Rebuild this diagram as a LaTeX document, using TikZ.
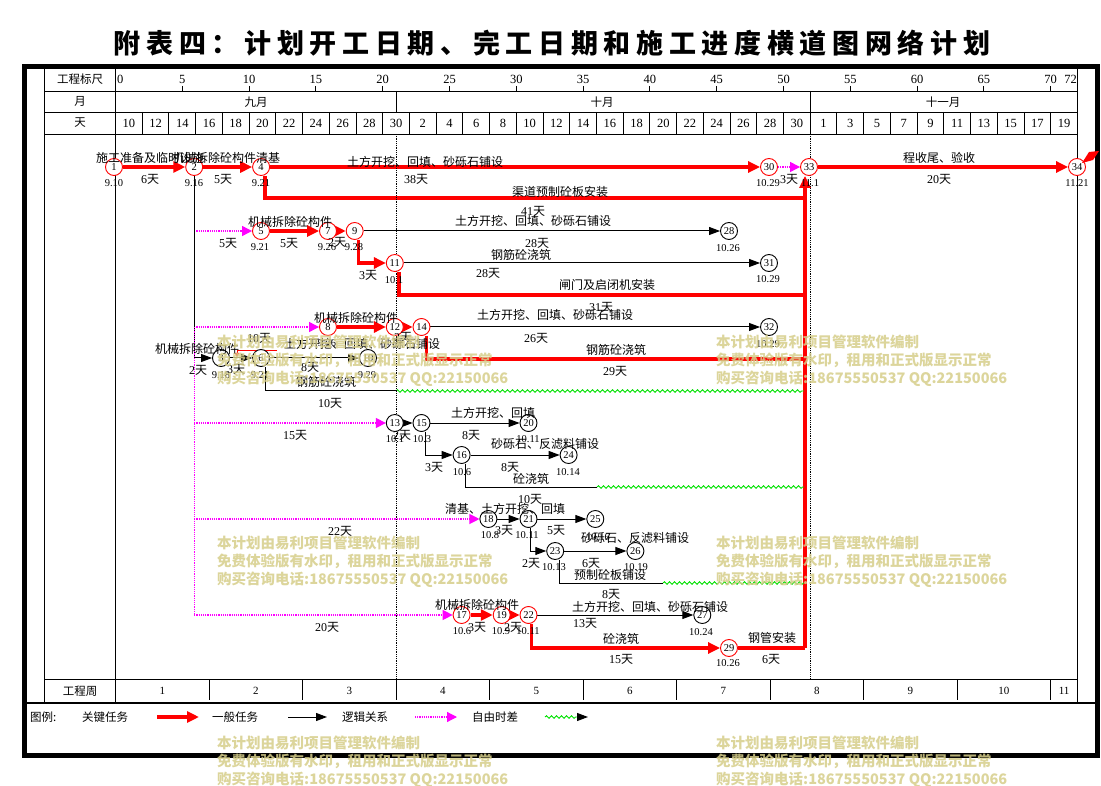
\documentclass[tikz,border=0pt]{standalone}
\usepackage{fontspec}
\setmainfont{Liberation Serif}
\newfontfamily\cjk{Noto Sans CJK SC}
\newfontfamily\ttlfont[LetterSpace=21]{Noto Sans CJK SC}
\usetikzlibrary{arrows.meta,decorations.pathmorphing}
\pgfdeclarelayer{bg}
\pgfsetlayers{bg,main}
\newcommand\dur[1]{#1{\cjk 天}}
\definecolor{wm}{RGB}{214,206,138}
\definecolor{lgreen}{RGB}{0,225,0}
\definecolor{mag}{RGB}{255,0,255}
\tikzset{
 rn/.style={circle,draw=red,line width=0.9pt,fill=white,minimum size=17pt,inner sep=0pt,font=\fontsize{10.5}{10.5}\selectfont},
 bn/.style={rn,draw=black},
 crit/.style={red,line width=3.5pt},
 critarr/.style={crit,-{Triangle[length=12pt,width=11pt]}},
 norm/.style={black,line width=1pt},
 normarr/.style={norm,-{Triangle[length=11pt,width=8pt]}},
 flt/.style={mag,line width=1.2pt,densely dotted,-{Triangle[length=10pt,width=10pt]}},
 fltl/.style={mag,line width=1.2pt,densely dotted},
 wav/.style={lgreen,line width=0.9pt,decorate,decoration={snake,amplitude=1.3pt,segment length=5pt}},
 lb/.style={font=\cjk\fontsize{12}{12}\selectfont,inner sep=0pt},
 du/.style={font=\fontsize{12}{12}\selectfont,inner sep=0pt},
 dt/.style={font=\fontsize{10.5}{10.5}\selectfont,inner sep=0pt},
 hd/.style={font=\fontsize{12.5}{12.5}\selectfont,inner sep=0pt},
 hc/.style={font=\cjk\fontsize{11.5}{11.5}\selectfont,inner sep=0pt},
 lg/.style={font=\cjk\fontsize{11.5}{11.5}\selectfont,inner sep=0pt,anchor=west},
 wmk/.style={font=\cjk\bfseries\fontsize{14.5}{14.5}\selectfont,text=wm,text opacity=0.85,anchor=west,inner sep=0pt},
 tbl/.style={black,line width=0.9pt},
}
\begin{document}
\begin{tikzpicture}[x=1pt,y=-1pt]
\useasboundingbox (0,0) rectangle (1101,786);
\begin{pgfonlayer}{bg}
\fill[white] (0,0) rectangle (1101,786);
\end{pgfonlayer}

% title
\node (title) at (552,43) {\ttlfont\bfseries\fontsize{27}{27}\selectfont 附表四：计划开工日期、完工日期和施工进度横道图网络计划};

% frame and table
\draw[line width=4.5pt] (24.3,66.3) rectangle (1097.7,755.7);
\draw[tbl] (44,66) -- (44,703);
\draw[tbl] (115.5,66) -- (115.5,703);
\draw[tbl] (1077.4,66) -- (1077.4,703);
\draw[tbl] (44,91) -- (1077.4,91);
\draw[tbl] (44,112) -- (1077.4,112);
\draw[tbl] (44,134) -- (1077.4,134);
\draw[tbl] (44,679) -- (1077.4,679);
\draw[line width=2pt] (24,703) -- (1097,703);
\draw[tbl] (396,91) -- (396,112);
\draw[tbl] (810.2,91) -- (810.2,112);
\foreach \d in {2,4,...,70} \draw[tbl] ({115.5+13.36*\d},112) -- ({115.5+13.36*\d},134);
\foreach \d in {5,10,...,70} \draw[tbl] ({115.5+13.36*\d},86) -- ({115.5+13.36*\d},91);
\draw[line width=0.8pt,densely dotted] (396,134) -- (396,679);
\draw[line width=0.8pt,densely dotted] (810.2,134) -- (810.2,679);
\foreach \k in {1,...,10} \draw[tbl] ({115.5+13.36*7*\k},679) -- ({115.5+13.36*7*\k},700);

% header texts
\node[hc] (h1) at (80,79) {工程标尺};
\node[hc] (h2) at (80,101) {月};
\node[hc] (h3) at (80,123) {天};
\node[hc] (h4) at (80,691) {工程周};
\node[hc] (m1) at (256,102) {九月};
\node[hc] (m2) at (602,102) {十月};
\node[hc] (m3) at (943,102) {十一月};
\node[hd,anchor=west] (s0) at (117,79) {0};
\foreach \d in {5,10,...,70} \node[hd] (s\d) at ({115.5+13.36*\d},79) {\d};
\node[hd,anchor=east] (s72) at (1077,79) {72};
\foreach \d in {0,2,...,70} {
  \pgfmathtruncatemacro\lab{\d<21 ? 10+\d : (\d<51 ? \d-20 : \d-51)}
  \node[hd] (dy\d) at ({115.5+13.36*(\d+1)},123) {\lab};
}
\foreach \k in {1,...,10} \node[dt,font=\fontsize{11}{11}\selectfont] (wk\k) at ({115.5+13.36*(7*\k-3.5)},691) {\k};
\node[dt,font=\fontsize{11}{11}\selectfont] (wk11) at ({115.5+13.36*71},691) {11};

% network nodes
\node[rn] (n1) at (114,167) {1};
\node[rn] (n2) at (194.2,167) {2};
\node[rn] (n4) at (261.1,167) {4};
\node[rn] (n30) at (769,167) {30};
\node[rn] (n33) at (809,167) {33};
\node[rn] (n34) at (1077,167) {34};
\node[rn] (n5) at (261,231) {5};
\node[rn] (n7) at (328,231) {7};
\node[rn] (n9) at (354.7,231) {9};
\node[bn] (n28) at (729,231) {28};
\node[rn] (n11) at (394.8,263) {11};
\node[bn] (n31) at (769,263) {31};
\node[rn] (n8) at (328,327) {8};
\node[rn] (n12) at (394.8,327) {12};
\node[rn] (n14) at (421.5,327) {14};
\node[bn] (n32) at (769,327) {32};
\node[bn] (n3) at (221,358) {3};
\node[bn] (n6) at (261,358) {6};
\node[bn] (n10) at (368,358) {10};
\node[bn] (n13) at (394.8,423) {13};
\node[bn] (n15) at (421.5,423) {15};
\node[bn] (n20) at (528.5,423) {20};
\node[bn] (n16) at (461.6,455) {16};
\node[bn] (n24) at (568.6,455) {24};
\node[bn] (n18) at (488.4,519) {18};
\node[bn] (n21) at (528.5,519) {21};
\node[bn] (n25) at (595.3,519) {25};
\node[bn] (n23) at (555.2,551) {23};
\node[bn] (n26) at (635.4,551) {26};
\node[rn] (n17) at (461.6,615) {17};
\node[rn] (n19) at (501.7,615) {19};
\node[rn] (n22) at (528.5,615) {22};
\node[bn] (n27) at (702.3,615) {27};
\node[rn] (n29) at (729,648) {29};

% free coordinates
\coordinate (k4) at (805,198);
\coordinate (k11) at (805,295);
\coordinate (k14) at (805,359);
\coordinate (k29) at (805,648);
\coordinate (f5) at (194.2,231);
\coordinate (f8) at (194.2,327);
\coordinate (f13) at (194.2,423);
\coordinate (f18) at (194.2,519);
\coordinate (f17) at (194.2,615);
\coordinate (w6) at (396,391);
\coordinate (e6) at (804,391);
\coordinate (w16) at (597,487);
\coordinate (e16) at (804,487);
\coordinate (w23) at (663,583);
\coordinate (e23) at (804,583);
\coordinate (ra) at (277,350);
\coordinate (rb) at (237,350);
\coordinate (rc) at (237,357);

\begin{pgfonlayer}{bg}
% top row
\draw[critarr] (n1) -- (n2);
\draw[critarr] (n2) -- (n4);
\draw[critarr] (n4) -- (n30);
\draw[flt] (n30) -- (n33);
\draw[critarr] (n33) -- (n34);
\draw[crit] ([xshift=4pt]n4.south) |- (k4);
% collector
\draw[crit] (n29) -- (k29);
\draw[critarr] (k29) -- (k29 |- n33.south);
% row B
\draw[flt] (f5) -- (n5);
\draw[critarr] (n5) -- (n7);
\draw[critarr] (n7) -- (n9);
\draw[normarr] (n9) -- (n28);
\draw[critarr] ([xshift=4pt]n9.south) |- (n11);
\draw[normarr] (n11) -- (n31);
\draw[crit] ([xshift=4pt]n11.south) |- (k11);
% row C
\draw[flt] (f8) -- (n8);
\draw[critarr] (n8) -- (n12);
\draw[critarr] (n12) -- (n14);
\draw[normarr] (n14) -- (n32);
\draw[crit] ([xshift=5pt]n14.south) |- (k14);
% row D
\draw[normarr] (n2) |- (n3);
\draw[normarr] (n3) -- (n6);
\draw[normarr] (n6) -- (n10);
\draw[norm] ([xshift=4pt]n6.south) |- (w6);
\draw[wav] (w6) -- (e6);
\draw[red,line width=0.9pt,-{Triangle[length=4pt,width=4pt]}] (ra) -- (rb) -- (rc);
% floats
\draw[fltl] (f8) -- (f17);
\draw[flt] (f13) -- (n13);
\draw[flt] (f18) -- (n18);
\draw[flt] (f17) -- (n17);
% row E
\draw[normarr] (n13) -- (n15);
\draw[normarr] (n15) -- (n20);
\draw[normarr] ([xshift=4pt]n15.south) |- (n16);
\draw[normarr] (n16) -- (n24);
\draw[norm] ([xshift=4pt]n16.south) |- (w16);
\draw[wav] (w16) -- (e16);
% row F
\draw[normarr] (n18) -- (n21);
\draw[normarr] (n21) -- (n25);
\draw[normarr] ([xshift=2pt]n21.south) |- (n23);
\draw[normarr] (n23) -- (n26);
\draw[norm] ([xshift=4pt]n23.south) |- (w23);
\draw[wav] (w23) -- (e23);
% row G
\draw[critarr] (n17) -- (n19);
\draw[critarr] (n19) -- (n22);
\draw[normarr] (n22) -- (n27);
\draw[critarr] ([xshift=3pt]n22.south) |- (n29);
\end{pgfonlayer}

% flag at end node
\fill[red] (1082,163) -- (1089,152) -- (1099,151) -- (1093,160) -- cycle;

% labels top row
\node[lb] (t1) at (150,158) {施工准备及临时设施};
\node[lb] (t2) at (226,158) {机械拆除砼构件清基};
\node[lb] (t3) at (425,162) {土方开挖、回填、砂砾石铺设};
\node[lb] (t4) at (939,158) {程收尾、验收};
\node[lb] (t5) at (560,192) {渠道预制砼板安装};
\node[du] (u1) at (150,179) {\dur{6}};
\node[du] (u2) at (223,179) {\dur{5}};
\node[du] (u3) at (416,179) {\dur{38}};
\node[du] (u4) at (789,179) {\dur{3}};
\node[du] (u5) at (939,179) {\dur{20}};
\node[du] (u6) at (533,211) {\dur{41}};
\node[dt] (d1) at (114,183) {9.10};
\node[dt] (d2) at (194,183) {9.16};
\node[dt] (d3) at (261,183) {9.21};
\node[dt] (d4) at (768,183) {10.29};
\node[dt] (d5) at (810,183) {11.1};
\node[dt] (d6) at (1077,183) {11.21};

% row B
\node[lb] (t6) at (290,222) {机械拆除砼构件};
\node[lb] (t7) at (533,221) {土方开挖、回填、砂砾石铺设};
\node[lb] (t8) at (521,255) {钢筋砼浇筑};
\node[lb] (t9) at (607,285) {闸门及启闭机安装};
\node[du] (u7) at (228,243) {\dur{5}};
\node[du] (u8) at (289,243) {\dur{5}};
\node[du] (u9) at (337,242) {\dur{2}};
\node[du] (u10) at (537,243) {\dur{28}};
\node[du] (u11) at (368,275) {\dur{3}};
\node[du] (u12) at (488,273) {\dur{28}};
\node[du] (u13) at (601,307) {\dur{31}};
\node[dt] (d7) at (260,247) {9.21};
\node[dt] (d8) at (327,247) {9.26};
\node[dt] (d9) at (354,247) {9.28};
\node[dt] (d10) at (728,248) {10.26};
\node[dt] (d11) at (394,280) {10.1};
\node[dt] (d12) at (768,279) {10.29};

% row C
\node[lb] (t10) at (356,318) {机械拆除砼构件};
\node[lb] (t11) at (555,315) {土方开挖、回填、砂砾石铺设};
\node[lb] (t12) at (616,350) {钢筋砼浇筑};
\node[du] (u14) at (259,338) {\dur{10}};
\node[du] (u15) at (403,337) {\dur{2}};
\node[du] (u16) at (536,338) {\dur{26}};
\node[du] (u17) at (615,371) {\dur{29}};
\node[dt] (d13) at (327,343) {9.26};
\node[dt] (d14) at (768,344) {10.29};

% row D
\node[lb] (t13) at (197,349) {机械拆除砼构件};
\node[lb] (t14) at (362,344) {土方开挖、回填、砂砾石铺设};
\node[lb] (t15) at (326,382) {钢筋砼浇筑};
\node[du] (u18) at (198,370) {\dur{2}};
\node[du] (u19) at (236,369) {\dur{3}};
\node[du] (u20) at (310,367) {\dur{8}};
\node[du] (u21) at (330,403) {\dur{10}};
\node[dt] (d15) at (221,375) {9.18};
\node[dt] (d16) at (260,375) {9.21};
\node[dt] (d17) at (367,375) {9.29};

% row E
\node[lb] (t16) at (493,413) {土方开挖、回填};
\node[lb] (t17) at (545,444) {砂砾石、反滤料铺设};
\node[lb] (t18) at (531,479) {砼浇筑};
\node[du] (u22) at (295,435) {\dur{15}};
\node[du] (u23) at (402,435) {\dur{2}};
\node[du] (u24) at (471,435) {\dur{8}};
\node[du] (u25) at (434,467) {\dur{3}};
\node[du] (u26) at (510,467) {\dur{8}};
\node[du] (u27) at (530,499) {\dur{10}};
\node[dt] (d18) at (395,439) {10.1};
\node[dt] (d19) at (422,439) {10.3};
\node[dt] (d20) at (528,439) {10.11};
\node[dt] (d21) at (462,472) {10.6};
\node[dt] (d22) at (568,472) {10.14};

% row F
\node[lb] (t19) at (505,509) {清基、土方开挖、回填};
\node[lb] (t20) at (635,538) {砂砾石、反滤料铺设};
\node[lb] (t21) at (610,575) {预制砼板铺设};
\node[du] (u28) at (340,531) {\dur{22}};
\node[du] (u29) at (504,530) {\dur{3}};
\node[du] (u30) at (556,530) {\dur{5}};
\node[du] (u31) at (531,563) {\dur{2}};
\node[du] (u32) at (591,563) {\dur{6}};
\node[du] (u33) at (611,594) {\dur{8}};
\node[dt] (d23) at (490,535) {10.8};
\node[dt] (d24) at (527,535) {10.11};
\node[dt] (d25) at (598,537) {10.16};
\node[dt] (d26) at (554,567) {10.13};
\node[dt] (d27) at (636,567) {10.19};

% row G
\node[lb] (t22) at (477,605) {机械拆除砼构件};
\node[lb] (t23) at (650,607) {土方开挖、回填、砂砾石铺设};
\node[lb] (t24) at (621,639) {砼浇筑};
\node[lb] (t25) at (772,638) {钢管安装};
\node[du] (u34) at (327,627) {\dur{20}};
\node[du] (u35) at (477,627) {\dur{3}};
\node[du] (u36) at (513,627) {\dur{2}};
\node[du] (u37) at (585,623) {\dur{13}};
\node[du] (u38) at (621,659) {\dur{15}};
\node[du] (u39) at (771,659) {\dur{6}};
\node[dt] (d28) at (462,631) {10.6};
\node[dt] (d29) at (501,631) {10.9};
\node[dt] (d30) at (528,631) {10.11};
\node[dt] (d31) at (701,632) {10.24};
\node[dt] (d32) at (728,663) {10.26};

% legend
\node[lg] (g0) at (30,717) {图例:};
\node[lg] (g1) at (82,717) {关键任务};
\coordinate (ga) at (157,717);
\coordinate (gb) at (199,717);
\draw[critarr] (ga) -- (gb);
\node[lg] (g2) at (212,717) {一般任务};
\coordinate (gc) at (288,717);
\coordinate (gd) at (327,717);
\draw[normarr] (gc) -- (gd);
\node[lg] (g3) at (342,717) {逻辑关系};
\coordinate (ge) at (415,717);
\coordinate (gf) at (457,717);
\draw[flt] (ge) -- (gf);
\node[lg] (g4) at (472,717) {自由时差};
\coordinate (gg) at (545,717);
\coordinate (gh) at (578,717);
\coordinate (gi) at (588,717);
\draw[wav] (gg) -- (gh);
\draw[normarr] (gh) -- (gi);

% watermarks
\foreach \wx/\wy [count=\i] in {217/342,716/342,217/543,716/543,217/743,716/743} {
  \node[wmk] (wa\i) at (\wx,\wy) {本计划由易利项目管理软件编制};
  \node[wmk] (wb\i) at (\wx,{\wy+18.5}) {免费体验版有水印，租用和正式版显示正常};
  \node[wmk] (wc\i) at (\wx,{\wy+37}) {购买咨询电话:18675550537 QQ:22150066};
}
\end{tikzpicture}
\end{document}
